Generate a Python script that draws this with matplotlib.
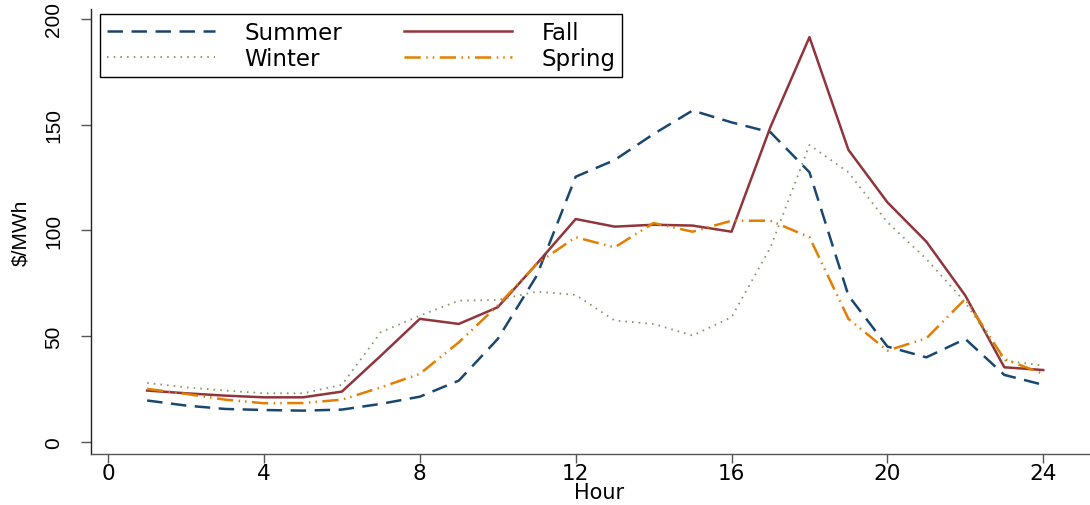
import matplotlib
matplotlib.use("Agg")
import matplotlib.pyplot as plt

# hourly average prices by season ($/MWh)
hours = list(range(1, 25))
summer = [19.6, 17.2, 15.6, 15.1, 14.8, 15.3, 18.0, 21.4, 29.0, 48.7, 78.6, 125.4,
          133.3, 145.6, 156.7, 151.1, 146.4, 127.5, 69.2, 45.1, 40.0, 48.7, 31.7, 27.0]
fall = [24.3, 23.0, 21.9, 21.1, 21.1, 23.8, 40.8, 58.2, 55.8, 63.7, 84.2, 105.4,
        101.8, 102.7, 102.3, 99.4, 149.0, 191.4, 138.1, 113.3, 94.7, 69.2, 35.3, 34.0]
winter = [27.9, 25.8, 24.3, 23.0, 23.0, 27.0, 51.9, 59.7, 66.8, 67.1, 71.1, 69.5,
          57.4, 55.8, 50.3, 59.0, 92.0, 140.4, 127.5, 103.9, 86.5, 66.0, 38.5, 36.1]
spring = [25.1, 22.7, 20.0, 18.3, 18.4, 20.0, 25.8, 32.2, 47.1, 64.5, 84.2, 96.8,
          92.0, 103.5, 99.4, 104.6, 104.6, 96.8, 58.2, 43.2, 49.0, 67.6, 39.2, 32.2]

xticks = [0, 4, 8, 12, 16, 20, 24]
yticks = [0, 50, 100, 150, 200]

# horizontal text in the reference is stretched wide, DejaVu comes closest
wide = ["DejaVu Sans"]
plain = ["Liberation Sans", "DejaVu Sans"]

fig = plt.figure(figsize=(10.9, 5.06), dpi=100)
ax = fig.add_axes([91 / 1090, 51 / 506, 999 / 1090, 445 / 506])

l_summer, = ax.plot(hours, summer, color="#1a476f", lw=1.8, ls=(0, (6.2, 3.4)))
l_fall, = ax.plot(hours, fall, color="#90353b", lw=1.8, ls="-")
l_winter, = ax.plot(hours, winter, color="#819869", lw=1.3, ls=(0, (0.9, 2.8)))
l_spring, = ax.plot(hours, spring, color="#e37e00", lw=1.8,
                    ls=(0, (6.5, 2.2, 0.6, 2.0, 0.6, 2.2)))

ax.set_xlim(-0.44, 25.2)
ax.set_ylim(-5.7, 204.7)
ax.set_xticks(xticks)
ax.set_yticks(yticks)
ax.set_xticklabels([str(t) for t in xticks], family=wide, fontsize=15.5)
ax.set_yticklabels([str(t) for t in yticks], family=plain, fontsize=15,
                   rotation=90, va="center")
ax.tick_params(axis="both", direction="out", length=7, width=1, color="#555555")
ax.tick_params(axis="x", length=6.5, pad=0)
ax.tick_params(axis="y", pad=13)

for side in ("top", "right"):
    ax.spines[side].set_visible(False)
ax.spines["left"].set_color("#222222")
ax.spines["bottom"].set_color("#555555")
for side in ("left", "bottom"):
    ax.spines[side].set_linewidth(1)

ax.set_xlabel("Hour", family=wide, fontsize=15)
ax.xaxis.set_label_coords(0.509, -0.064)
ax.set_ylabel(r"\$/MWh", family=plain, fontsize=15, labelpad=10)

leg = ax.legend([l_summer, l_winter, l_fall, l_spring],
                ["Summer", "Winter", "Fall", "Spring"],
                ncol=2, loc="upper left",
                bbox_to_anchor=(100 / 1090, 1 - 15 / 506),
                bbox_transform=fig.transFigure, borderaxespad=0,
                fancybox=False, framealpha=1, edgecolor="black",
                handlelength=4.7, handletextpad=1.3, columnspacing=2.7,
                labelspacing=0.15, borderpad=0.3,
                prop={"family": wide, "size": 16.5})
leg.get_frame().set_linewidth(1)

fig.savefig("out.png", dpi=100)
